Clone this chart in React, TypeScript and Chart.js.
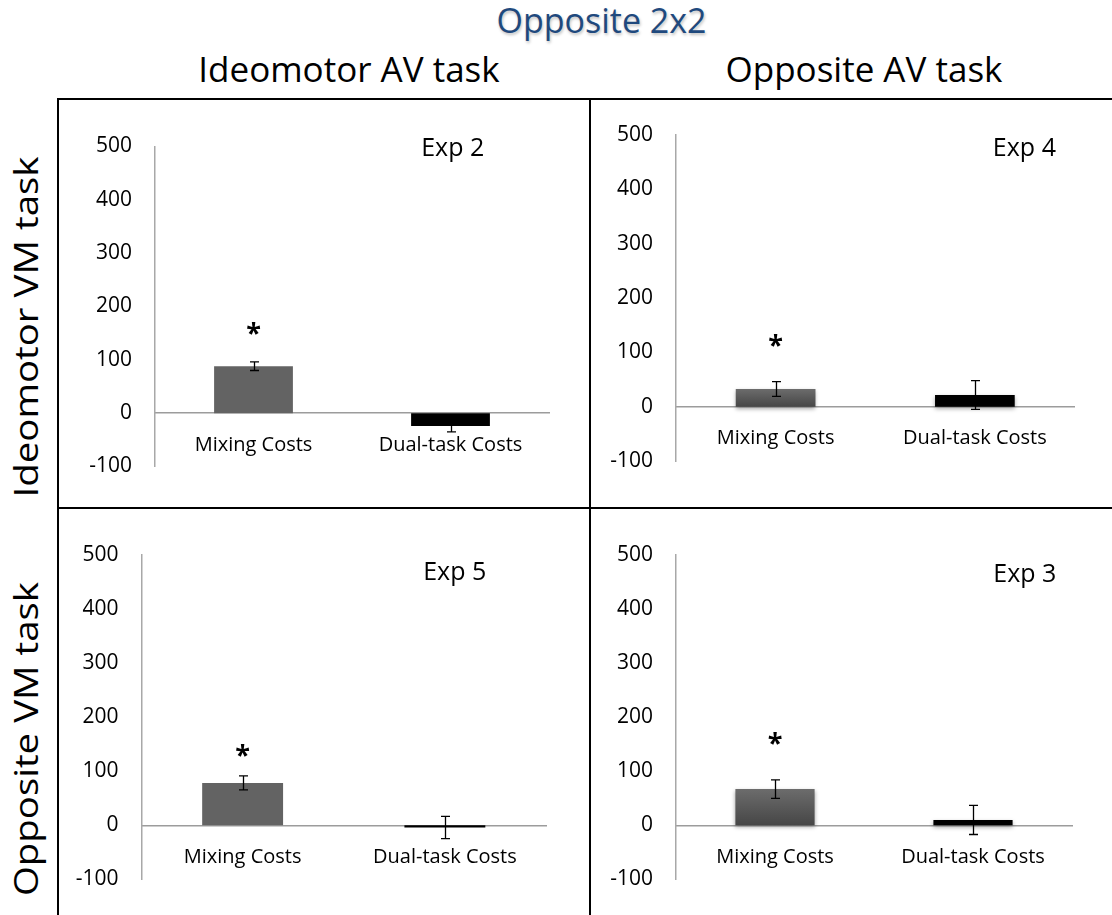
import React, { useEffect, useRef } from "react";
import { Chart, registerables } from "chart.js";

Chart.register(...registerables);

// ---------- data ----------
const categories = ["Mixing Costs", "Dual-task Costs"];
const yTickValues = [-100, 0, 100, 200, 300, 400, 500];

const exp2Means = [88, -24];
const exp2Errors = [8, 11];
const exp2Stars = [162, null];

const exp4Means = [32.5, 21.5];
const exp4Errors = [13.5, 26.5];
const exp4Stars = [125, null];

const exp5Means = [78.5, -4];
const exp5Errors = [13, 20.5];
const exp5Stars = [141, null];

const exp3Means = [67, 10];
const exp3Errors = [17, 27];
const exp3Stars = [165, null];

const panelLabels = ["Exp 2", "Exp 4", "Exp 5", "Exp 3"];
const columnTitles = ["Ideomotor AV task", "Opposite AV task"];
const rowTitles = ["Ideomotor VM task", "Opposite VM task"];
const mainTitle = "Opposite 2x2";

// ---------- layout / style ----------
const FONT = '"Open Sans", "DejaVu Sans", sans-serif';

type Panel = {
  means: number[];
  errors: number[];
  stars: (number | null)[];
  box: { x: number; y: number; w: number; h: number };
  pad: { left: number; right: number; top: number; bottom: number };
  gradient: boolean;
};

const panels: Panel[] = [
  {
    means: exp2Means, errors: exp2Errors, stars: exp2Stars,
    box: { x: 58, y: 99, w: 532, h: 409 },
    pad: { left: 17, right: 41, top: 47.5, bottom: 41.5 },
    gradient: false,
  },
  {
    means: exp4Means, errors: exp4Errors, stars: exp4Stars,
    box: { x: 590, y: 99, w: 522, h: 409 },
    pad: { left: 6, right: 37.5, top: 36, bottom: 47 },
    gradient: true,
  },
  {
    means: exp5Means, errors: exp5Errors, stars: exp5Stars,
    box: { x: 58, y: 508, w: 532, h: 407 },
    pad: { left: 3.5, right: 44, top: 47, bottom: 24 },
    gradient: false,
  },
  {
    means: exp3Means, errors: exp3Errors, stars: exp3Stars,
    box: { x: 590, y: 508, w: 522, h: 407 },
    pad: { left: 6, right: 40, top: 47, bottom: 32.5 },
    gradient: true,
  },
];

const panelLabelPos = [
  { cx: 452.7, base: 156 },
  { cx: 1024.4, base: 156 },
  { cx: 454.7, base: 580 },
  { cx: 1024.8, base: 581.7 },
];

function BarPanel({ panel }: { panel: Panel }) {
  const ref = useRef<HTMLCanvasElement | null>(null);
  useEffect(() => {
    if (!ref.current) return;
    const { means, errors, stars } = panel;
    const errorPlugin = {
      id: "errorBarsAndStars",
      beforeDatasetsDraw(chart: any) {
        if (!panel.gradient) return;
        chart.ctx.save();
        chart.ctx.shadowColor = "rgba(0,0,0,0.35)";
        chart.ctx.shadowBlur = 4;
        chart.ctx.shadowOffsetY = 2;
      },
      afterDatasetsDraw(chart: any) {
        if (panel.gradient) chart.ctx.restore();
        const { ctx, scales } = chart;
        const y = scales.y;
        const meta = chart.getDatasetMeta(0);
        ctx.save();
        ctx.strokeStyle = "#000";
        ctx.lineWidth = 1.3;
        meta.data.forEach((bar: any, i: number) => {
          const cx = Math.round(bar.x) + 0.5;
          const yTop = y.getPixelForValue(means[i] + errors[i]);
          const yBot = y.getPixelForValue(means[i] - errors[i]);
          ctx.beginPath();
          ctx.moveTo(cx, yTop);
          ctx.lineTo(cx, yBot);
          ctx.moveTo(cx - 4.5, yTop);
          ctx.lineTo(cx + 4.5, yTop);
          ctx.moveTo(cx - 4.5, yBot);
          ctx.lineTo(cx + 4.5, yBot);
          ctx.stroke();
          const s = stars[i];
          if (s !== null && s !== undefined) {
            ctx.fillStyle = "#000";
            ctx.font = `bold 27px ${FONT}`;
            ctx.textAlign = "center";
            ctx.textBaseline = "alphabetic";
            ctx.fillText("*", bar.x, y.getPixelForValue(s) + 0.57 * 27);
          }
        });
        ctx.restore();
      },
    };

    const chart = new Chart(ref.current, {
      type: "bar",
      data: {
        labels: categories,
        datasets: [
          {
            data: means,
            backgroundColor: (c: any) => {
              if (c.dataIndex === 1) return "#000000";
              if (!panel.gradient) return "#636363";
              const ch = c.chart;
              const sc = ch.scales && ch.scales.y;
              if (!ch.chartArea || !sc || c.raw === undefined) return "#5a5a5a";
              const y0 = sc.getPixelForValue(0);
              const y1 = sc.getPixelForValue(c.raw);
              const g = ch.ctx.createLinearGradient(0, y1, 0, y0);
              g.addColorStop(0, "#6c6c6c");
              g.addColorStop(1, "#464646");
              return g;
            },
            barPercentage: 0.4,
            categoryPercentage: 1.0,
          },
        ],
      },
      options: {
        animation: false,
        responsive: false,
        devicePixelRatio: 1,
        layout: { padding: panel.pad },
        plugins: {
          legend: { display: false },
          tooltip: { enabled: false },
          title: { display: false },
        },
        scales: {
          x: {
            type: "category",
            position: { y: 0 } as any,
            offset: true,
            grid: { display: false, drawTicks: false },
            border: { display: true, color: "#9c9c9c", width: 1.5 },
            ticks: {
              color: "#000",
              font: { family: FONT, size: 20 },
              padding: 20,
              maxRotation: 0,
              autoSkip: false,
            },
            afterFit: (s: any) => {
              s.height = 0;
            },
          },
          y: {
            type: "linear",
            min: yTickValues[0],
            max: yTickValues[yTickValues.length - 1],
            grid: { display: false, drawTicks: false },
            border: { display: true, color: "#a8a8a8", width: 1.5 },
            ticks: {
              stepSize: yTickValues[1] - yTickValues[0],
              color: "#000",
              font: { family: FONT, size: 21 },
              padding: 23,
            },
            afterFit: (s: any) => {
              s.width = 80;
            },
          },
        },
      },
      plugins: [errorPlugin],
    } as any);
    return () => chart.destroy();
  }, [panel]);

  return (
    <canvas
      ref={ref}
      width={panel.box.w}
      height={panel.box.h}
      style={{
        position: "absolute",
        left: panel.box.x,
        top: panel.box.y,
        width: panel.box.w,
        height: panel.box.h,
      }}
    />
  );
}

function TextLabel({
  text, cx, base, size, color = "#000", shadow,
}: { text: string; cx: number; base: number; size: number; color?: string; shadow?: string }) {
  return (
    <div
      style={{
        position: "absolute",
        left: cx,
        top: base - 0.888 * size,
        transform: "translateX(-50%)",
        fontFamily: FONT,
        fontSize: size,
        lineHeight: `${size}px`,
        whiteSpace: "nowrap",
        color,
        textShadow: shadow,
      }}
    >
      {text}
    </div>
  );
}

function RowLabel({ text, cx, cy }: { text: string; cx: number; cy: number }) {
  return (
    <div
      style={{
        position: "absolute",
        left: cx,
        top: cy,
        transform: "translate(-50%, -50%) rotate(-90deg) scaleX(1.2)",
        fontFamily: FONT,
        fontSize: 32,
        lineHeight: "32px",
        whiteSpace: "nowrap",
        color: "#000",
      }}
    >
      {text}
    </div>
  );
}

export default function App() {
  const line = (l: number, t: number, w: number, h: number) => (
    <div style={{ position: "absolute", left: l, top: t, width: w, height: h, background: "#000" }} />
  );
  return (
    <div
      style={{
        position: "absolute",
        left: 0,
        top: 0,
        width: 1112,
        height: 915,
        background: "#fff",
        overflow: "hidden",
      }}
    >
      <TextLabel text={mainTitle} cx={601.5} base={33.3} size={34} color="#1f497d" shadow="1px 2px 3px rgba(0,0,0,0.25)" />
      <TextLabel text={columnTitles[0]} cx={349} base={81.7} size={35} />
      <TextLabel text={columnTitles[1]} cx={864} base={81.7} size={35} />
      <RowLabel text={rowTitles[0]} cx={25.5} cy={327} />
      <RowLabel text={rowTitles[1]} cx={25.5} cy={739} />

      {panels.map((p, i) => (
        <BarPanel key={i} panel={p} />
      ))}
      {panelLabels.map((t, i) => (
        <TextLabel key={t} text={t} cx={panelLabelPos[i].cx} base={panelLabelPos[i].base} size={25} />
      ))}

      {line(57, 98, 1055, 2)}
      {line(57, 98, 2, 817)}
      {line(589, 98, 2, 817)}
      {line(57, 507, 1055, 2)}
    </div>
  );
}
